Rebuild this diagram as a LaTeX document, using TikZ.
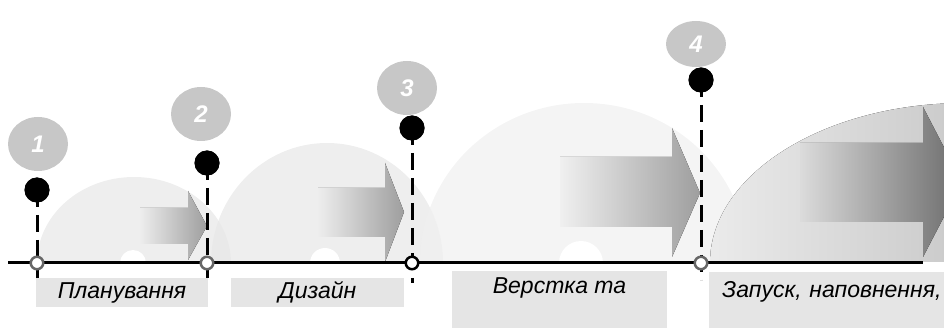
\documentclass[tikz,border=0pt]{standalone}
\usepackage{fontspec}
\setmainfont{Liberation Sans}
\tikzset{>=latex}
\usetikzlibrary{shapes.geometric}
\tikzstyle{dome} = [fill=black!9, fill opacity=0.75]
\tikzstyle{hole} = [fill=white]
\tikzstyle{flow} = [left color=black!7, right color=black!38]
\tikzstyle{blackdot} = [circle, fill=black, minimum size=25pt, inner sep=0pt]
\tikzstyle{milestone} = [circle, draw=black!60, fill=white, line width=2.5pt, minimum size=12.5pt, inner sep=0pt]
\tikzstyle{badge} = [ellipse, fill=black!22, text=white, font=\fontsize{24}{24}\selectfont\bfseries\itshape, minimum width=60pt, minimum height=54pt, inner sep=0pt]
\tikzstyle{stemline} = [line width=3pt, dash pattern=on 17pt off 8pt]
\tikzstyle{axisline} = [line width=3pt]
\tikzstyle{phase} = [fill=black!10, inner sep=0pt, font=\fontsize{23}{26}\selectfont\itshape]

\begin{document}
\begin{tikzpicture}[x=1pt,y=-1pt]

\useasboundingbox (0,0) rectangle (944,328);
\clip (0,0) rectangle (944,328);

% Domes behind the timeline
\begin{scope}
	\clip (0,0) rectangle (944,262);
	\fill[dome] (134,263) ellipse [x radius=97, y radius=86];
	\fill[dome] (327,263) ellipse [x radius=116, y radius=120];
	\fill[dome, fill=black!6] (584,263) ellipse [x radius=164, y radius=160];
	\fill[left color=black!8, right color=black!34] (965,263) ellipse [x radius=255, y radius=160];
	\fill[hole] (133,263) circle (13);
	\fill[hole] (325,263) circle (15);
	\fill[hole] (581,263) circle (22);
\end{scope}

% Shaded arrows
\fill[flow] (140,208) -- (188,208) -- (188,191) -- (207,226) -- (188,260) -- (188,244) -- (140,244) -- cycle;
\fill[flow] (318,188) -- (385,188) -- (385,163) -- (404,212) -- (385,262) -- (385,237) -- (318,237) -- cycle;
\fill[flow, left color=black!6] (560,157) -- (672,157) -- (672,128) -- (700,193) -- (672,257) -- (672,227) -- (560,227) -- cycle;
\fill[flow, left color=black!14, right color=black!58] (800,143) -- (923,143) -- (923,107) -- (962,182) -- (923,257) -- (923,222) -- (800,222) -- cycle;

% Timeline
\coordinate (axisL) at (8,263);
\coordinate (axisR) at (923,263);
\draw[axisline] (axisL) -- (axisR);

% Phase labels
\node[phase, minimum width=172pt, minimum height=29pt] (lab1) at (122,292.5) {Планування};
\node[phase, minimum width=173pt, minimum height=29pt] (lab2) at (317.5,292.5) {Дизайн};
\node[phase, anchor=north, minimum width=215pt, text height=22pt, text depth=50pt] (lab3) at (559.5,271) {Верстка та};
\node[phase, anchor=north west, inner xsep=13pt, text width=240pt, text height=25pt, text depth=50pt, align=left] (lab4) at (709,272) {Запуск, наповнення,};

% Stems
\coordinate (end1) at (37,278);
\coordinate (end2) at (207,278);
\coordinate (end3) at (412,283);
\coordinate (end4) at (701,280);
\node[blackdot] (dot1) at (37,190) {};
\node[blackdot] (dot2) at (207,163) {};
\node[blackdot] (dot3) at (412,128) {};
\node[blackdot] (dot4) at (701,80) {};
\draw[stemline] (dot1.center) -- (end1);
\draw[stemline] (dot2.center) -- (end2);
\draw[stemline] (dot3.center) -- (end3);
\draw[stemline] (dot4.center) -- (end4);
\node[blackdot] at (dot1) {};
\node[blackdot] at (dot2) {};
\node[blackdot] at (dot3) {};
\node[blackdot] at (dot4) {};

% Milestones on the timeline
\node[milestone] (ms1) at (37,263) {};
\node[milestone] (ms2) at (207,263) {};
\node[milestone, draw=black] (ms3) at (412,263) {};
\node[milestone] (ms4) at (701,263) {};

% Numbers
\node[badge] (num1) at (38,144) {1};
\node[badge] (num2) at (201,114) {2};
\node[badge] (num3) at (407,88) {3};
\node[badge, minimum height=46pt] (num4) at (696,44) {4};

\end{tikzpicture}
\end{document}
